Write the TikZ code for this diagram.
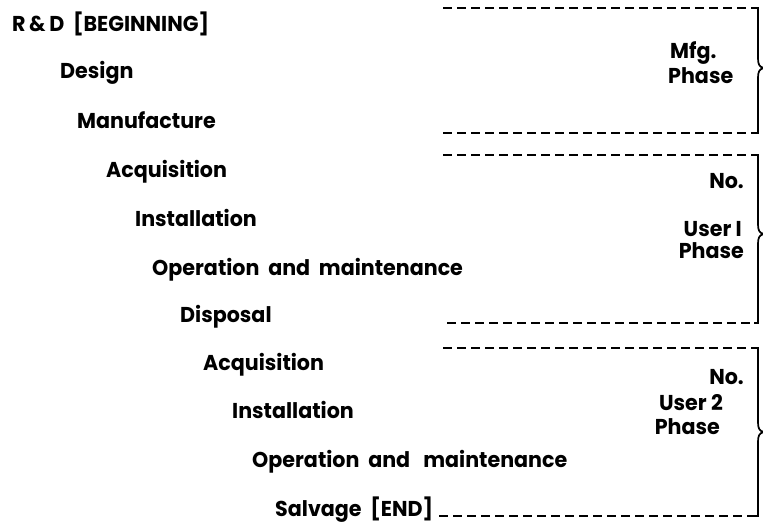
\documentclass[tikz,border=0pt]{standalone}
\usepackage{fontspec}
\setmainfont{Poppins}[FakeStretch=0.96]
\begin{document}
\begin{tikzpicture}[x=1pt,y=-1pt,
  lbl/.style={anchor=base west, inner sep=0pt, font=\fontsize{21.5}{24}\selectfont\bfseries},
  rlbl/.style={anchor=base east, inner sep=0pt, font=\fontsize{21.5}{24}\selectfont\bfseries},
  dline/.style={line width=1.7pt, dash pattern=on 9pt off 5pt},
  bracketline/.style={line width=1.7pt}]
\useasboundingbox (0,0) rectangle (763,525);
% left stair of stages
\node[lbl] (rd)   at (12,31)  {R\,\&\,D\ \ [BEGINNING]};
\node[lbl] (des)  at (60,78)  {Design};
\node[lbl] (man)  at (77,128) {Manufacture};
\node[lbl] (acq1) at (106,177) {Acquisition};
\node[lbl] (ins1) at (135,226) {Installation};
\node[lbl] (op1)  at (152,275) {Operation\ \ and\ \ maintenance};
\node[lbl] (dis)  at (180,322) {Disposal};
\node[lbl] (acq2) at (203,370) {Acquisition};
\node[lbl] (ins2) at (232,418) {Installation};
\node[lbl] (op2)  at (252,467) {Operation\ \ and\ \ \ maintenance};
\node[lbl] (sal)  at (275,516) {Salvage\ \ [END]};
% right labels
\node[lbl] (mfg)  at (670,58) {Mfg.};
\node[lbl] (mph)  at (668,83) {Phase};
\node[rlbl] (no1) at (744,188) {No.};
\node[rlbl] (us1) at (742,236) {User I};
\node[rlbl] (ph1) at (744,258) {Phase};
\node[rlbl] (no2) at (744,384) {No.};
\node[rlbl] (us2) at (723,410) {User 2};
\node[rlbl] (ph2) at (720,434) {Phase};
% line ends
\coordinate (mt0) at (443,8);   \coordinate (mt1) at (758,8);
\coordinate (mb0) at (443,133); \coordinate (mb1) at (758,133);
\coordinate (ut0) at (443,155); \coordinate (ut1) at (758,155);
\coordinate (ub0) at (447,323); \coordinate (ub1) at (758,323);
\coordinate (vt0) at (443,348); \coordinate (vt1) at (758,348);
\coordinate (vb0) at ([xshift=6pt]sal.base east); \coordinate (vb1) at (758,516);
% dashed boundaries
\draw[dline] (mt0) -- (mt1);
\draw[dline] (mb0) -- (mb1);
\draw[dline] (ut0) -- (ut1);
\draw[dline] (ub0) -- (ub1);
\draw[dline] (vt0) -- (vt1);
\draw[dline] (vb0) -- (vb1);
% brackets
\draw[bracketline] ([xshift=-4pt]mt1) -- (mt1) -- (758,58) .. controls (758,64) and (759,67) .. (764,68)
   (764,68) .. controls (759,69) and (758,72) .. (758,78) -- (mb1) -- ([xshift=-4pt]mb1);
\draw[bracketline] ([xshift=-4pt]ut1) -- (ut1) -- (758,224) .. controls (758,230) and (759,233) .. (764,234)
   (764,234) .. controls (759,235) and (758,238) .. (758,244) -- (ub1) -- ([xshift=-4pt]ub1);
\draw[bracketline] ([xshift=-4pt]vt1) -- (vt1) -- (758,422) .. controls (758,428) and (759,431) .. (764,432)
   (764,432) .. controls (759,433) and (758,436) .. (758,442) -- (vb1) -- ([xshift=-4pt]vb1);
\end{tikzpicture}
\end{document}
